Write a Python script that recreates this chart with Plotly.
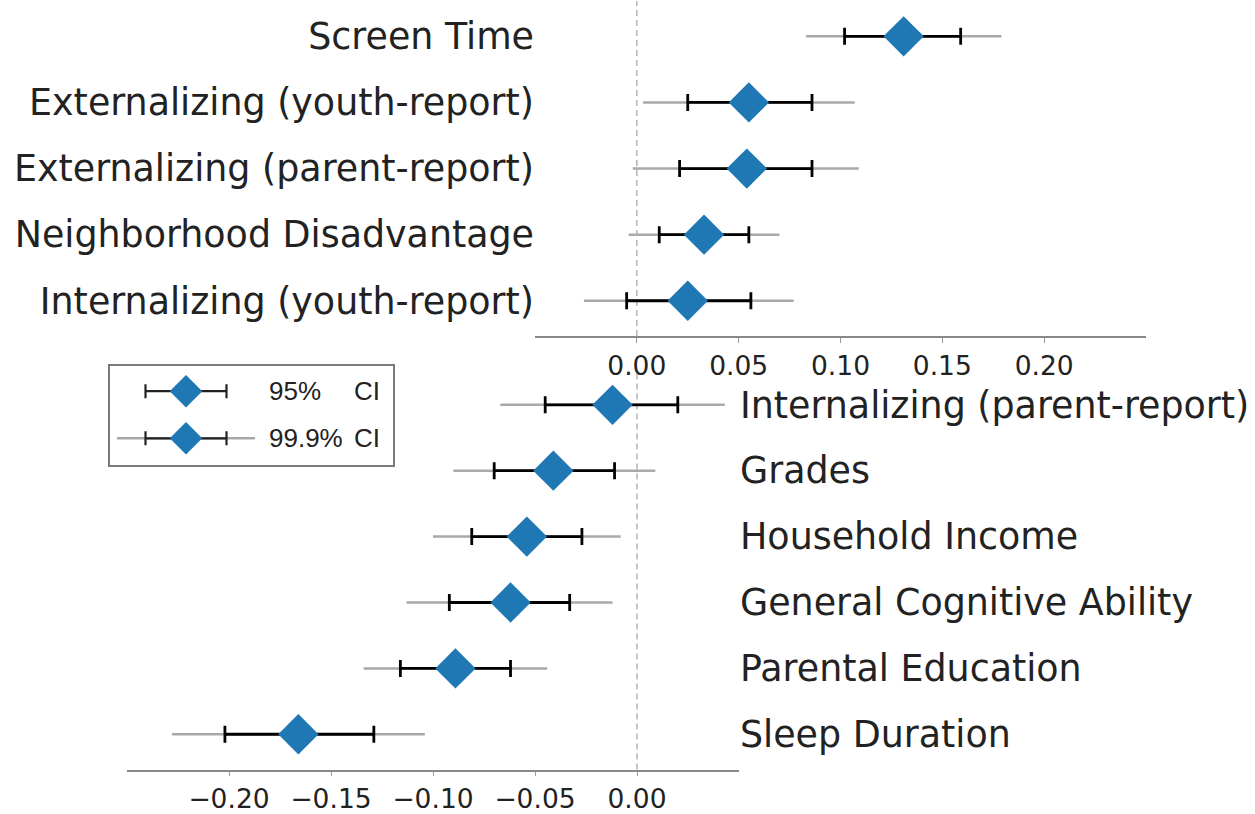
import plotly.graph_objects as go

# ---------------- data ----------------
top_labels = ["Screen Time", "Externalizing (youth-report)", "Externalizing (parent-report)",
              "Neighborhood Disadvantage", "Internalizing (youth-report)"]
top_est = [0.131, 0.055, 0.054, 0.033, 0.025]
top_lo95 = [0.102, 0.025, 0.021, 0.011, -0.005]
top_hi95 = [0.159, 0.086, 0.086, 0.055, 0.056]
top_lo999 = [0.083, 0.003, -0.002, -0.004, -0.026]
top_hi999 = [0.179, 0.107, 0.109, 0.070, 0.077]

bot_labels = ["Internalizing (parent-report)", "Grades", "Household Income",
              "General Cognitive Ability", "Parental Education", "Sleep Duration"]
bot_est = [-0.012, -0.041, -0.054, -0.062, -0.089, -0.166]
bot_lo95 = [-0.045, -0.070, -0.081, -0.092, -0.116, -0.202]
bot_hi95 = [0.020, -0.011, -0.027, -0.033, -0.062, -0.129]
bot_lo999 = [-0.067, -0.090, -0.100, -0.113, -0.134, -0.228]
bot_hi999 = [0.043, 0.009, -0.008, -0.012, -0.044, -0.104]

top_ticks = [0.0, 0.05, 0.10, 0.15, 0.20]
top_ticktext = ["0.00", "0.05", "0.10", "0.15", "0.20"]
bot_ticks = [-0.20, -0.15, -0.10, -0.05, 0.0]
bot_ticktext = ["\u22120.20", "\u22120.15", "\u22120.10", "\u22120.05", "0.00"]

legend_labels = ["95%", "99.9%"]

BLUE = "#1f77b4"
GRAY = "#a9a9a9"
FONT = "DejaVu Sans"
W, H = 1255, 814

fig = go.Figure()


def add_panel(labels, est, lo95, hi95, lo999, hi999, xa, ya):
    fig.add_trace(go.Scatter(
        x=est, y=labels, mode="markers", xaxis=xa, yaxis=ya,
        marker=dict(size=1, color="rgba(0,0,0,0)"),
        error_x=dict(type="data", symmetric=False,
                     array=[h - e for h, e in zip(hi999, est)],
                     arrayminus=[e - l for l, e in zip(lo999, est)],
                     color=GRAY, thickness=2.5, width=0),
        showlegend=False, hoverinfo="skip"))
    fig.add_trace(go.Scatter(
        x=est, y=labels, mode="markers", xaxis=xa, yaxis=ya,
        marker=dict(size=1, color="rgba(0,0,0,0)"),
        error_x=dict(type="data", symmetric=False,
                     array=[h - e for h, e in zip(hi95, est)],
                     arrayminus=[e - l for l, e in zip(lo95, est)],
                     color="black", thickness=2.8, width=8.5),
        showlegend=False, hoverinfo="skip"))
    fig.add_trace(go.Scatter(
        x=est, y=labels, mode="markers", xaxis=xa, yaxis=ya,
        marker=dict(symbol="diamond", size=31, color=BLUE, line=dict(width=0)),
        showlegend=False))


add_panel(top_labels, top_est, top_lo95, top_hi95, top_lo999, top_hi999, "x", "y")
add_panel(bot_labels, bot_est, bot_lo95, bot_hi95, bot_lo999, bot_hi999, "x2", "y2")

# ---------------- legend drawn in its own small axes ----------------
leg_y = [26, 74]
leg_c = 76
fig.add_trace(go.Scatter(
    x=[leg_c], y=[leg_y[1]], mode="markers", xaxis="x3", yaxis="y3",
    marker=dict(size=1, color="rgba(0,0,0,0)"),
    error_x=dict(type="constant", value=69, color=GRAY, thickness=2.5, width=0),
    showlegend=False, hoverinfo="skip"))
fig.add_trace(go.Scatter(
    x=[leg_c, leg_c], y=leg_y, mode="markers", xaxis="x3", yaxis="y3",
    marker=dict(size=1, color="rgba(0,0,0,0)"),
    error_x=dict(type="constant", value=40.5, color="#222", thickness=2.2, width=7),
    showlegend=False, hoverinfo="skip"))
fig.add_trace(go.Scatter(
    x=[leg_c, leg_c], y=leg_y, mode="markers", xaxis="x3", yaxis="y3",
    marker=dict(symbol="diamond", size=25, color=BLUE, line=dict(width=0)),
    showlegend=False, hoverinfo="skip"))

LEGFONT = dict(family="Liberation Sans, Arial", size=26, color="#222")
for lab, yy in zip(legend_labels, leg_y):
    fig.add_annotation(x=157, y=yy, xref="x3", yref="y3", text=lab, showarrow=False,
                       xanchor="left", yanchor="middle", font=LEGFONT)
    fig.add_annotation(x=242, y=yy, xref="x3", yref="y3", text="CI", showarrow=False,
                       xanchor="left", yanchor="middle", font=LEGFONT)

# ---------------- zero lines ----------------
for xr, yr in [("x", "y domain"), ("x2", "y2 domain")]:
    fig.add_shape(type="line", x0=0, x1=0, y0=0, y1=1, xref=xr, yref=yr,
                  line=dict(color="#b8b8b8", width=1.6, dash="6px,4px"), layer="below")

xaxis_common = dict(showgrid=False, zeroline=False, showline=True, linecolor="#888888",
                    linewidth=1.5, ticks="outside", ticklen=5, tickcolor="#999999",
                    tickwidth=1.2, tickfont=dict(family=FONT, size=26.5, color="#222"))
yaxis_common = dict(showgrid=False, zeroline=False, showline=False, ticks="",
                    tickfont=dict(family=FONT, size=36.4, color="#222"), type="category")

fig.update_layout(
    width=W, height=H, autosize=False,
    margin=dict(l=0, r=0, t=0, b=0, pad=0),
    paper_bgcolor="white", plot_bgcolor="white",
    xaxis=dict(domain=[535 / W, 1146 / W], range=[-0.05, 0.25],
               tickvals=top_ticks, ticktext=top_ticktext, anchor="y", **xaxis_common),
    yaxis=dict(domain=[1 - 342 / H, 1 - 1 / H], range=[4.535, -0.535], anchor="x",
               categoryorder="array", categoryarray=top_labels, side="left", **yaxis_common),
    xaxis2=dict(domain=[127 / W, 739 / W], range=[-0.25, 0.05],
                tickvals=bot_ticks, ticktext=bot_ticktext, anchor="y2", **xaxis_common),
    yaxis2=dict(domain=[1 - 783 / H, 1 - 376 / H], range=[5.535, -0.535], anchor="x2",
                categoryorder="array", categoryarray=bot_labels, side="right", **yaxis_common),
    xaxis3=dict(domain=[110 / W, 393 / W], range=[0, 283], showgrid=False, zeroline=False,
                showticklabels=False, ticks="", showline=True, mirror=True,
                linecolor="#7a7a7a", linewidth=2, anchor="y3", fixedrange=True),
    yaxis3=dict(domain=[1 - 473 / H, 1 - 372 / H], range=[101, 0], showgrid=False,
                zeroline=False, showticklabels=False, ticks="", showline=True, mirror=True,
                linecolor="#7a7a7a", linewidth=2, anchor="x3", fixedrange=True),
)

fig.write_html("out.html",
               config={"responsive": False, "displayModeBar": False},
               post_script="document.body.style.margin='0';document.body.style.overflow='hidden';")
